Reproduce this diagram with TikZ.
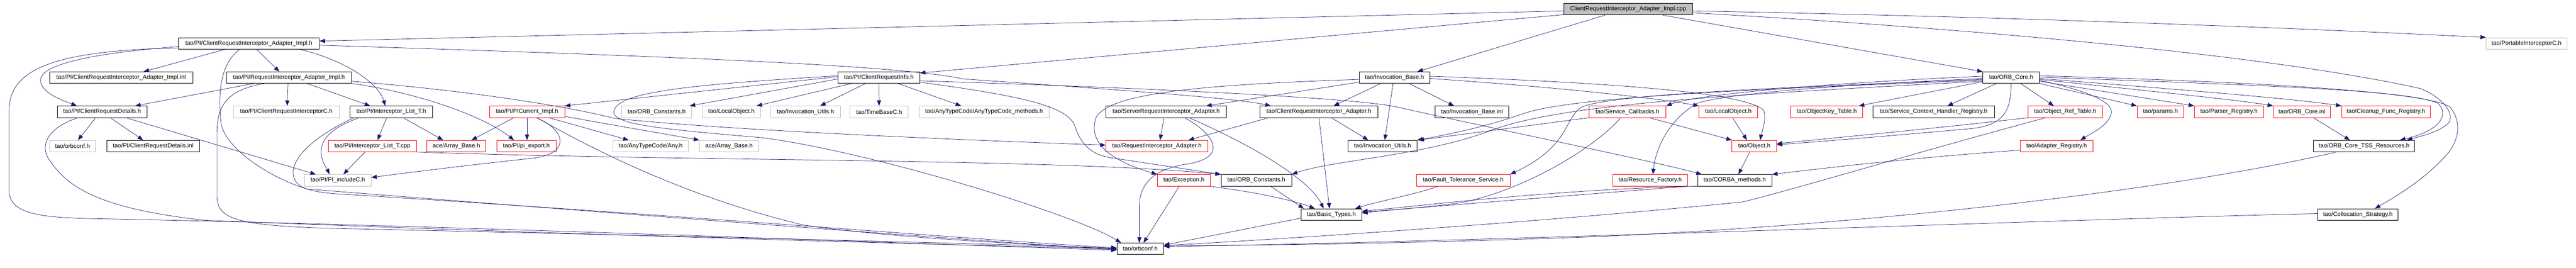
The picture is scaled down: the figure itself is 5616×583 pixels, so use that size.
\documentclass[tikz,border=0pt]{standalone}
\usepackage{fontspec}
\setmainfont{Liberation Sans}
\usetikzlibrary{arrows.meta}
\definecolor{incblue}{RGB}{25,25,112}
\definecolor{extgray}{RGB}{191,191,191}
\tikzset{
  hdr/.style={draw=black, line width=0.9pt, minimum height=25pt, inner sep=1pt, font=\fontsize{13}{15}\selectfont},
  exthdr/.style={hdr, draw=extgray},
  redhdr/.style={hdr, draw=red},
  mainhdr/.style={hdr, fill=extgray},
  inc/.style={incblue, line width=0.8pt, -{Triangle[length=12pt,width=9pt]}}
}
\begin{document}
\begin{tikzpicture}[x=1pt,y=-1pt]
\useasboundingbox (0,0) rectangle (5616,583);
\node[mainhdr, minimum width=281pt] (cpp) at (3549.5,19.9) {ClientRequestInterceptor\_Adapter\_Impl.cpp};
\node[hdr, minimum width=307pt] (implh) at (542.5,94.5) {tao/PI/ClientRequestInterceptor\_Adapter\_Impl.h};
\node[exthdr, minimum width=176pt] (pic) at (5508,94.5) {tao/PortableInterceptorC.h};
\node[hdr, minimum width=312pt] (implinl) at (264,169.1) {tao/PI/ClientRequestInterceptor\_Adapter\_Impl.inl};
\node[hdr, minimum width=274pt] (riaimpl) at (630,169.1) {tao/PI/RequestInterceptor\_Adapter\_Impl.h};
\node[hdr, minimum width=178pt] (cri) at (1916,169.1) {tao/PI/ClientRequestInfo.h};
\node[hdr, minimum width=154pt] (invbase) at (3040,169.1) {tao/Invocation\_Base.h};
\node[hdr, minimum width=123pt] (orbcore) at (4384.5,169.1) {tao/ORB\_Core.h};
\node[hdr, minimum width=195pt] (crd) at (222.5,243.7) {tao/PI/ClientRequestDetails.h};
\node[exthdr, minimum width=230pt] (cric) at (624,243.7) {tao/PI/ClientRequestInterceptorC.h};
\node[hdr, minimum width=180pt] (ilt) at (853,243.7) {tao/PI/Interceptor\_List\_T.h};
\node[redhdr, minimum width=164pt] (picur) at (1149,243.7) {tao/PI/PICurrent\_Impl.h};
\node[exthdr, minimum width=153pt] (orbconsta) at (1431.5,243.7) {tao/ORB\_Constants.h};
\node[exthdr, minimum width=127pt] (locobja) at (1594.5,243.7) {tao/LocalObject.h};
\node[exthdr, minimum width=152pt] (invutila) at (1756,243.7) {tao/Invocation\_Utils.h};
\node[exthdr, minimum width=127pt] (tbc) at (1916.5,243.7) {tao/TimeBaseC.h};
\node[exthdr, minimum width=283pt] (atcm) at (2145.5,243.7) {tao/AnyTypeCode/AnyTypeCode\_methods.h};
\node[hdr, minimum width=263pt] (sria) at (2542.5,243.7) {tao/ServerRequestInterceptor\_Adapter.h};
\node[hdr, minimum width=257pt] (cria) at (2875.5,243.7) {tao/ClientRequestInterceptor\_Adapter.h};
\node[hdr, minimum width=160pt] (invbinl) at (3209,243.7) {tao/Invocation\_Base.inl};
\node[redhdr, minimum width=168pt] (scb) at (3548,243.7) {tao/Service\_Callbacks.h};
\node[redhdr, minimum width=128pt] (locobjb) at (3768,243.7) {tao/LocalObject.h};
\node[redhdr, minimum width=157pt] (okt) at (3982.5,243.7) {tao/ObjectKey\_Table.h};
\node[hdr, minimum width=265pt] (schr) at (4215.5,243.7) {tao/Service\_Context\_Handler\_Registry.h};
\node[redhdr, minimum width=163pt] (ort) at (4502.5,243.7) {tao/Object\_Ref\_Table.h};
\node[redhdr, minimum width=102pt] (params) at (4710,243.7) {tao/params.h};
\node[redhdr, minimum width=151pt] (parser) at (4859.5,243.7) {tao/Parser\_Registry.h};
\node[redhdr, minimum width=125pt] (orbinl) at (5018.5,243.7) {tao/ORB\_Core.inl};
\node[redhdr, minimum width=193pt] (cfr) at (5201.5,243.7) {tao/Cleanup\_Func\_Registry.h};
\node[exthdr, minimum width=100pt] (orbconfa) at (158,318.3) {tao/orbconf.h};
\node[hdr, minimum width=202pt] (crdinl) at (334,318.3) {tao/PI/ClientRequestDetails.inl};
\node[redhdr, minimum width=192pt] (iltcpp) at (812,318.3) {tao/PI/Interceptor\_List\_T.cpp};
\node[redhdr, minimum width=128pt] (arra) at (995,318.3) {ace/Array\_Base.h};
\node[redhdr, minimum width=129pt] (piexp) at (1147.5,318.3) {tao/PI/pi\_export.h};
\node[exthdr, minimum width=165pt] (any) at (1418.5,318.3) {tao/AnyTypeCode/Any.h};
\node[exthdr, minimum width=129pt] (arrb) at (1589.5,318.3) {ace/Array\_Base.h};
\node[redhdr, minimum width=222pt] (ria) at (2522,318.3) {tao/RequestInterceptor\_Adapter.h};
\node[hdr, minimum width=150pt] (invutilb) at (3014,318.3) {tao/Invocation\_Utils.h};
\node[redhdr, minimum width=97pt] (object) at (3824.5,318.3) {tao/Object.h};
\node[redhdr, minimum width=159pt] (adreg) at (4483.5,318.3) {tao/Adapter\_Registry.h};
\node[hdr, minimum width=220pt] (tss) at (5154,318.3) {tao/ORB\_Core\_TSS\_Resources.h};
\node[exthdr, minimum width=145pt] (piinc) at (736.5,392.9) {tao/PI/PI\_includeC.h};
\node[redhdr, minimum width=116pt] (exc) at (2581,392.9) {tao/Exception.h};
\node[hdr, minimum width=154pt] (orbconstb) at (2739,392.9) {tao/ORB\_Constants.h};
\node[redhdr, minimum width=204pt] (fts) at (3190,392.9) {tao/Fault\_Tolerance\_Service.h};
\node[redhdr, minimum width=163pt] (rf) at (3597.5,392.9) {tao/Resource\_Factory.h};
\node[hdr, minimum width=162pt] (corbam) at (3782,392.9) {tao/CORBA\_methods.h};
\node[hdr, minimum width=133pt] (basic) at (2902.5,467.5) {tao/Basic\_Types.h};
\node[hdr, minimum width=175pt] (colloc) at (5140.5,467.5) {tao/Collocation\_Strategy.h};
\node[hdr, minimum width=102pt] (orbconfb) at (2486,542.1) {tao/orbconf.h};
\draw[inc] ([yshift=-4pt]cpp.west) -- ([yshift=5pt]implh.east);
\draw[inc] ([yshift=-12pt]cpp.west) -- ([yshift=10pt]cri.east);
\draw[inc] ([xshift=-50pt]cpp.south) -- ([xshift=50pt]invbase.north);
\draw[inc] ([xshift=75pt]cpp.south) -- (orbcore.north west);
\draw[inc] ([yshift=-4pt]cpp.east) .. controls (4300,35) and (4900,56) .. (pic.north west);
\draw[inc] ([yshift=-8pt]cpp.east) .. controls (4300,62) and (4950,120) .. (5277,193) .. controls (5330,215) and (5352,250) .. (5338,268) .. controls (5318,288) and (5280,296) .. ([xshift=93pt]tss.north);
\draw[inc] ([xshift=-51pt]implh.south) -- ([xshift=49pt]implinl.north);
\draw[inc] ([xshift=17pt]implh.south) -- ([xshift=-21pt]riaimpl.north);
\draw[inc] ([yshift=-7pt]implh.west) .. controls (150,120) and (80,150) .. (89,180) .. controls (95,205) and (140,220) .. ([xshift=-55pt]crd.north);
\draw[inc] ([xshift=110pt]implh.south) .. controls (750,130) and (825,180) .. ([xshift=-13pt]ilt.north);
\draw[inc] ([yshift=-10pt]implh.west) .. controls (120,110) and (20,150) .. (20,240) -- (20,420) .. controls (25,470) and (100,475) .. (230,477) .. controls (1000,492) and (2000,532) .. ([yshift=-3pt]orbconfb.west);
\draw[inc] ([xshift=-20pt]implh.south) .. controls (480,140) and (475,200) .. (482,270) .. controls (495,330) and (600,392) .. (670,412) .. controls (1400,470) and (2200,530) .. ([yshift=-2pt]orbconfb.west);
\draw[inc] ([yshift=-4pt]implh.east) .. controls (1400,121) and (1950,140) .. (2100,172) .. controls (2500,200) and (2700,215) .. ([xshift=-105pt]cria.north);
\draw[inc] ([xshift=-77pt]riaimpl.south) -- ([xshift=72pt]crd.north);
\draw[inc] ([xshift=-2pt]riaimpl.south) -- ([xshift=2pt]cric.north);
\draw[inc] ([xshift=40pt]riaimpl.south) -- ([xshift=-46pt]ilt.north);
\draw[inc] (riaimpl.south east) .. controls (900,200) and (1050,250) .. ([xshift=-27pt]piexp.north);
\draw[inc] ([yshift=-8pt]riaimpl.east) .. controls (1050,200) and (1250,235) .. (1340,258) .. controls (1600,285) and (2100,305) .. ([yshift=2pt]ria.west);
\draw[inc] ([xshift=-54pt]riaimpl.south) .. controls (500,195) and (473,225) .. (473,290) -- (473,430) .. controls (475,478) and (520,490) .. (700,497) .. controls (1500,515) and (2200,532) .. ([yshift=1pt]orbconfb.west);
\draw[inc] ([xshift=-14pt]crd.south) -- ([xshift=12pt]orbconfa.north);
\draw[inc] ([xshift=18pt]crd.south) -- ([xshift=-22pt]crdinl.north);
\draw[inc] ([xshift=52pt]crd.south) -- ([xshift=-48pt]piinc.north);
\draw[inc] ([xshift=-53pt]crd.south) .. controls (100,280) and (85,320) .. (110,352) .. controls (150,410) and (220,455) .. (446,480) .. controls (1200,510) and (2000,532) .. (orbconfb.west);
\draw[inc] ([xshift=-10pt]ilt.south) -- ([xshift=11pt]iltcpp.north);
\draw[inc] ([xshift=26pt]ilt.south) -- ([xshift=-29pt]arra.north);
\draw[inc] ([xshift=-70pt]ilt.south) .. controls (730,275) and (700,300) .. (700,330) .. controls (700,352) and (712,366) .. ([xshift=-18pt]piinc.north);
\draw[inc] ([xshift=-82pt]ilt.south) .. controls (700,290) and (630,340) .. (640,385) .. controls (648,412) and (680,420) .. (760,424) .. controls (1500,470) and (2200,528) .. ([yshift=2pt]orbconfb.west);
\draw[inc] ([xshift=-16pt]iltcpp.south) -- ([xshift=12pt]piinc.north);
\draw[inc] (iltcpp.south east) .. controls (1500,352) and (2300,345) .. (orbconstb.north west);
\draw[inc] ([xshift=-29pt]picur.south) -- ([xshift=33pt]arra.north);
\draw[inc] (picur.south) -- ([xshift=1.5pt]piexp.north);
\draw[inc] ([xshift=20pt]picur.south) .. controls (1228,280) and (1248,330) .. (1169,344) .. controls (1000,362) and (860,380) .. ([yshift=6pt]piinc.east);
\draw[inc] ([xshift=22pt]picur.south) .. controls (1300,330) and (1500,430) .. (1750,490) .. controls (1950,520) and (2250,532) .. ([yshift=-1pt]orbconfb.west);
\draw[inc] ([xshift=48pt]picur.south) -- ([xshift=-48pt]any.north);
\draw[inc] ([yshift=-10pt]picur.east) .. controls (1350,275) and (1450,292) .. (arrb.north west);
\draw[inc] ([yshift=2pt]cri.west) -- (picur.north east);
\draw[inc] ([yshift=-3pt]cri.west) -- ([xshift=-5pt]orbconsta.north east);
\draw[inc] ([xshift=-60pt]cri.south) -- ([xshift=55pt]locobja.north);
\draw[inc] ([xshift=-29pt]cri.south) -- ([xshift=32pt]invutila.north);
\draw[inc] (cri.south) -- (tbc.north);
\draw[inc] ([xshift=42pt]cri.south) -- ([xshift=-50pt]atcm.north);
\draw[inc] ([yshift=4pt]cri.west) .. controls (1500,185) and (1340,200) .. (1338,245) .. controls (1340,272) and (1450,282) .. (1660,300) .. controls (1900,330) and (2350,470) .. ([xshift=-42pt]orbconfb.north);
\draw[inc] ([yshift=-10pt]cri.east) .. controls (2250,212) and (2335,235) .. (2345,280) .. controls (2360,320) and (2385,340) .. (2430,345) -- (orbconstb.north west);
\draw[inc] ([yshift=-7pt]cri.east) .. controls (2600,195) and (2950,215) .. (3040,232) .. controls (3300,290) and (3600,350) .. ([xshift=-72pt]corbam.north);
\draw[inc] ([xshift=-5pt]sria.south) -- ([xshift=7pt]ria.north);
\draw[inc] ([xshift=40pt]sria.south) .. controls (2645,290) and (2680,342) .. (2591,357) .. controls (2515,368) and (2484,400) .. (2484,450) -- ([xshift=-2pt]orbconfb.north);
\draw[inc] ([xshift=50pt]sria.south) .. controls (2760,330) and (2860,400) .. ([xshift=-17pt]basic.north);
\draw[inc] ([xshift=-110pt]cria.south) -- ([xshift=69pt]ria.north);
\draw[inc] ([xshift=27pt]cria.south) -- ([xshift=-31pt]invutilb.north);
\draw[inc] (cria.south) -- ([xshift=-4pt]basic.north);
\draw[inc] ([xshift=-30pt]invbase.south) -- ([xshift=32pt]cria.north);
\draw[inc] ([xshift=-3pt]invbase.south) -- ([xshift=5pt]invutilb.north);
\draw[inc] ([xshift=32pt]invbase.south) -- ([xshift=-39pt]invbinl.north);
\draw[inc] ([yshift=-10pt]invbase.west) -- ([xshift=87pt]sria.north);
\draw[inc] ([yshift=-4pt]invbase.west) .. controls (2600,185) and (2420,205) .. (2390,255) .. controls (2370,310) and (2420,350) .. (exc.north west);
\draw[inc] ([yshift=3pt]invbase.east) .. controls (3500,180) and (3800,200) .. (3845,240) .. controls (3852,262) and (3840,290) .. ([xshift=13pt]object.north);
\draw[inc] ([yshift=-2pt]invbase.east) .. controls (3400,190) and (3620,215) .. (locobjb.north west);
\draw[inc] ([xshift=55pt]exc.south) .. controls (2750,420) and (2830,440) .. ([xshift=-36pt]basic.north);
\draw[inc] ([xshift=-10pt]exc.south) -- ([xshift=7pt]orbconfb.north);
\draw[inc] ([xshift=31pt]orbconstb.south) -- ([xshift=-60pt]basic.north);
\draw[inc] ([yshift=-8pt]basic.west) -- ([yshift=8pt]orbconfb.east);
\draw[inc] ([xshift=-55pt]fts.south) .. controls (3100,420) and (3000,440) .. ([xshift=52pt]basic.north);
\draw[inc] (rf.south east) .. controls (3400,428) and (3100,452) .. ([yshift=5pt]basic.east);
\draw[inc] ([xshift=-78pt]corbam.south) .. controls (3400,412) and (3100,448) .. ([yshift=7pt]basic.east);
\draw[inc] ([xshift=-15pt]scb.south) .. controls (3470,330) and (3300,425) .. (3170,444) .. controls (3080,455) and (3020,458) .. ([yshift=3pt]basic.east);
\draw[inc] (scb.south west) -- ([xshift=3pt]invutilb.north east);
\draw[inc] ([xshift=48pt]scb.south) -- (object.north west);
\draw[inc] ([xshift=9pt]locobjb.south) -- ([xshift=-16pt]object.north);
\draw[inc] ([xshift=-10pt]object.south) -- ([xshift=8pt]corbam.north);
\draw[inc] ([yshift=-9pt]adreg.west) .. controls (4150,345) and (3950,370) .. (corbam.north east);
\draw[inc] (ort.south west) .. controls (4200,282) and (3950,305) .. ([yshift=5pt]object.east);
\draw[inc] ([xshift=-43pt]ort.south) .. controls (4150,340) and (3950,402) .. (3800,440) .. controls (3400,480) and (2900,515) .. ([yshift=7pt]orbconfb.east);
\draw[inc] ([xshift=-60pt]tss.south) .. controls (4800,400) and (4200,482) .. (3500,515) .. controls (3100,530) and (2800,534) .. ([yshift=6pt]orbconfb.east);
\draw[inc] ([yshift=2pt]colloc.west) .. controls (4500,478) and (3200,528) .. ([yshift=5pt]orbconfb.east);
\draw[inc] ([xshift=25pt]orbinl.south) -- ([xshift=-31pt]tss.north);
\draw[inc] ([yshift=4pt]orbcore.east) .. controls (4900,178) and (5280,198) .. (5340,232) .. controls (5366,262) and (5362,300) .. (5340,330) .. controls (5290,390) and (5220,430) .. ([xshift=37pt]colloc.north);
\draw[inc] ([yshift=1pt]orbcore.east) .. controls (4900,185) and (5250,195) .. (5315,225) .. controls (5340,250) and (5320,285) .. ([xshift=78pt]tss.north);
\draw[inc] ([yshift=-2pt]orbcore.east) .. controls (4750,195) and (5000,215) .. (cfr.north west);
\draw[inc] ([yshift=-4pt]orbcore.east) .. controls (4700,200) and (4880,218) .. (orbinl.north west);
\draw[inc] ([yshift=-8pt]orbcore.east) -- (parser.north west);
\draw[inc] (orbcore.south east) -- (params.north west);
\draw[inc] ([yshift=-6pt]orbcore.east) .. controls (4560,200) and (4612,225) .. (4602,250) .. controls (4594,275) and (4560,290) .. ([xshift=52pt]adreg.north);
\draw[inc] ([xshift=21pt]orbcore.south) -- ([xshift=-25pt]ort.north);
\draw[inc] ([xshift=-32pt]orbcore.south) -- ([xshift=30pt]schr.north);
\draw[inc] ([yshift=-9pt]orbcore.west) -- ([xshift=70pt]okt.north);
\draw[inc] (orbcore.south) .. controls (4384,240) and (4370,272) .. (4300,280) .. controls (4100,298) and (3950,310) .. ([yshift=3pt]object.east);
\draw[inc] ([yshift=3pt]orbcore.west) .. controls (4000,180) and (3700,205) .. (scb.north east);
\draw[inc] ([yshift=-2pt]orbcore.west) .. controls (4000,185) and (3760,205) .. (3700,225) .. controls (3640,260) and (3610,320) .. ([xshift=6pt]rf.north);
\draw[inc] ([yshift=-4pt]orbcore.west) .. controls (3900,190) and (3500,205) .. (3445,235) .. controls (3410,262) and (3420,320) .. (fts.north east);
\draw[inc] ([yshift=-6pt]orbcore.west) .. controls (3800,195) and (3420,212) .. (3320,248) .. controls (3230,280) and (3130,298) .. (invutilb.north east);
\draw[inc] ([yshift=-8pt]orbcore.west) .. controls (3800,205) and (3400,225) .. (3246,286) .. controls (3100,340) and (2900,350) .. (orbconstb.north east);
\end{tikzpicture}
\end{document}
